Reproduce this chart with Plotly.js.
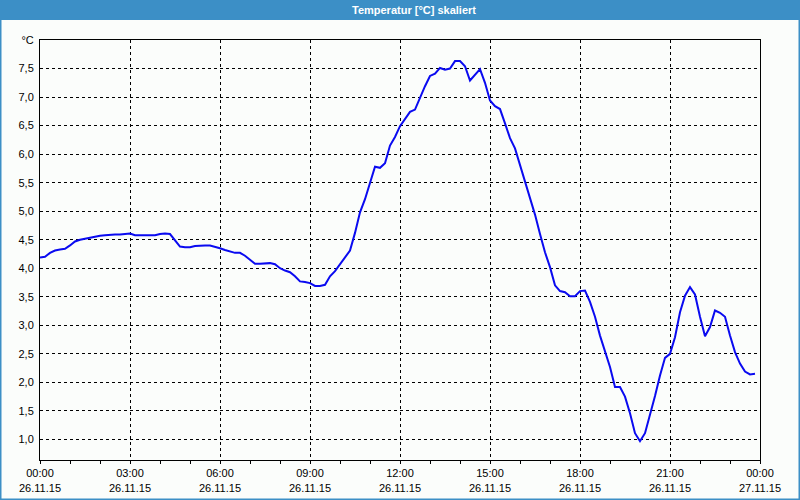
<!DOCTYPE html>
<html>
<head>
<meta charset="utf-8">
<script src="https://cdn.plot.ly/plotly-3.0.1.min.js"></script>
<style>
html,body{margin:0;padding:0;background:#fbfdfb;}
#chart{width:800px;height:500px;}
</style>
</head>
<body>
<div id="chart"></div>
<script>
const chartTitle = "Temperatur [°C] skaliert";
const day = "2015-11-26";
const times = [
"00:00","00:10","00:20","00:30","00:40","00:50",
"01:00","01:10","01:20","01:30","01:40","01:50",
"02:00","02:10","02:20","02:30","02:40","02:50",
"03:00","03:10","03:20","03:30","03:40","03:50",
"04:00","04:10","04:20","04:30","04:40","04:50",
"05:00","05:10","05:20","05:30","05:40","05:50",
"06:00","06:10","06:20","06:30","06:40","06:50",
"07:00","07:10","07:20","07:30","07:40","07:50",
"08:00","08:10","08:20","08:30","08:40","08:50",
"09:00","09:10","09:20","09:30","09:40","09:50",
"10:00","10:10","10:20","10:30","10:40","10:50",
"11:00","11:10","11:20","11:30","11:40","11:50",
"12:00","12:10","12:20","12:30","12:40","12:50",
"13:00","13:10","13:20","13:30","13:40","13:50",
"14:00","14:10","14:20","14:30","14:40","14:50",
"15:00","15:10","15:20","15:30","15:40","15:50",
"16:00","16:10","16:20","16:30","16:40","16:50",
"17:00","17:10","17:20","17:30","17:40","17:50",
"18:00","18:10","18:20","18:30","18:40","18:50",
"19:00","19:10","19:20","19:30","19:40","19:50",
"20:00","20:10","20:20","20:30","20:40","20:50",
"21:00","21:10","21:20","21:30","21:40","21:50",
"22:00","22:10","22:20","22:30","22:40","22:50",
"23:00","23:10","23:20","23:30","23:40","23:50"
];
const temperature = [
4.19, 4.20, 4.27, 4.31, 4.33, 4.34,
4.40, 4.47, 4.50, 4.52, 4.53, 4.55,
4.57, 4.58, 4.59, 4.59, 4.59, 4.60,
4.61, 4.58, 4.58, 4.58, 4.58, 4.58,
4.60, 4.61, 4.60, 4.48, 4.38, 4.37,
4.37, 4.39, 4.40, 4.40, 4.40, 4.38,
4.35, 4.32, 4.29, 4.27, 4.27, 4.22,
4.15, 4.08, 4.08, 4.09, 4.09, 4.07,
4.00, 3.96, 3.93, 3.86, 3.77, 3.76,
3.74, 3.69, 3.69, 3.71, 3.86, 3.95,
4.07, 4.18, 4.31, 4.62, 4.98, 5.21,
5.48, 5.78, 5.76, 5.84, 6.15, 6.30,
6.49, 6.62, 6.74, 6.78, 6.99, 7.19,
7.37, 7.41, 7.51, 7.48, 7.50, 7.63,
7.63, 7.54, 7.29, 7.40, 7.49, 7.25,
6.94, 6.84, 6.79, 6.54, 6.28, 6.10,
5.82, 5.53, 5.24, 4.94, 4.60, 4.28,
4.02, 3.70, 3.60, 3.58, 3.51, 3.51,
3.60, 3.61, 3.41, 3.15, 2.82, 2.53,
2.27, 1.92, 1.92, 1.75, 1.46, 1.11,
0.97, 1.11, 1.43, 1.76, 2.12, 2.43,
2.50, 2.79, 3.23, 3.52, 3.67, 3.54,
3.15, 2.81, 2.97, 3.26, 3.22, 3.15,
2.82, 2.53, 2.33, 2.19, 2.14, 2.15
];
const yTickVals = [1.0, 1.5, 2.0, 2.5, 3.0, 3.5, 4.0, 4.5, 5.0, 5.5, 6.0, 6.5, 7.0, 7.5, 8.0];
const yTickText = ["1,0","1,5","2,0","2,5","3,0","3,5","4,0","4,5","5,0","5,5","6,0","6,5","7,0","7,5","°C"];
const xTickVals = ["2015-11-26 00:00","2015-11-26 03:00","2015-11-26 06:00","2015-11-26 09:00","2015-11-26 12:00","2015-11-26 15:00","2015-11-26 18:00","2015-11-26 21:00","2015-11-27 00:00"];
const xTickText = ["00:00<br>26.11.15","03:00<br>26.11.15","06:00<br>26.11.15","09:00<br>26.11.15","12:00<br>26.11.15","15:00<br>26.11.15","18:00<br>26.11.15","21:00<br>26.11.15","00:00<br>27.11.15"];

const x = times.map(t => day + " " + t);

const W = 800, H = 500, mL = 40, mR = 40, mT = 40, mB = 40;
const pw = W - mL - mR, ph = H - mT - mB;
const px = v => v / pw, py = v => v / ph;

const trace = {
  x: x, y: temperature, type: "scatter", mode: "lines",
  line: {color: "#0a0af0", width: 2}, hoverinfo: "skip"
};

const layout = {
  width: W, height: H,
  margin: {l: mL, r: mR, t: mT, b: mB, pad: 0},
  paper_bgcolor: "#fbfdfb", plot_bgcolor: "#fbfdfb",
  showlegend: false,
  font: {family: "Liberation Sans, Arial, sans-serif", size: 11, color: "#000"},
  title: {
    text: "<b>" + chartTitle + "</b>",
    x: 414 / W, xanchor: "center", xref: "container",
    y: 1 - 10.5 / H, yanchor: "middle", yref: "container",
    font: {family: "Liberation Sans, Arial, sans-serif", size: 11, color: "#ffffff"}
  },
  xaxis: {
    type: "date",
    range: ["2015-11-26 00:00", "2015-11-27 00:00"],
    tickvals: xTickVals, ticktext: xTickText,
    ticks: "outside", ticklen: 3, tickcolor: "#000", tickwidth: 1,
    minor: {dtick: 3600000, ticks: "outside", ticklen: 3, tickcolor: "#000", tickwidth: 1, showgrid: false},
    showgrid: true, gridcolor: "#000", gridwidth: 1, griddash: "3px,3px",
    showline: true, linecolor: "#000", linewidth: 1, mirror: true,
    zeroline: false, automargin: false,
    tickfont: {family: "Liberation Sans, Arial, sans-serif", size: 11, color: "#000"}
  },
  yaxis: {
    range: [0.64, 8.0],
    tickvals: yTickVals, ticktext: yTickText,
    ticks: "", showgrid: true, gridcolor: "#000", gridwidth: 1, griddash: "3px,3px",
    showline: true, linecolor: "#000", linewidth: 1, mirror: true,
    zeroline: false, automargin: false, ticklabelstandoff: 3,
    tickfont: {family: "Liberation Sans, Arial, sans-serif", size: 11, color: "#000"}
  },
  shapes: [
    {type: "rect", xref: "paper", yref: "paper", layer: "below",
     x0: px(-mL), x1: 1 + px(mR), y0: 1 + py(mT - 20), y1: 1 + py(mT),
     fillcolor: "#3c8fc6", line: {width: 0}},
    {type: "rect", xref: "paper", yref: "paper", layer: "below",
     x0: px(-mL), x1: 1 + px(mR), y0: -py(mB), y1: 1 + py(mT),
     fillcolor: "rgba(0,0,0,0)", line: {color: "#3c8fc6", width: 3}}
  ]
};

Plotly.newPlot("chart", [trace], layout, {staticPlot: true, displayModeBar: false});
</script>
</body>
</html>
